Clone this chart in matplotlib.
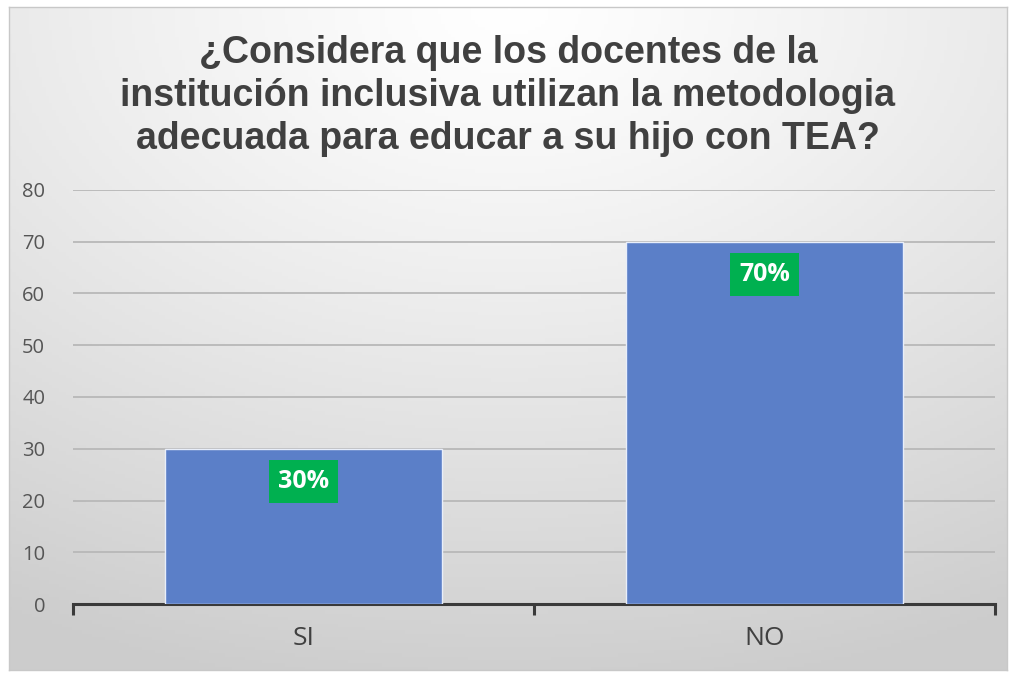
import numpy as np
import matplotlib
matplotlib.use("Agg")
import matplotlib.pyplot as plt

categories = ["SI", "NO"]
values = [30, 70]
labels = ["30%", "70%"]
title = "¿Considera que los docentes de la\ninstitución inclusiva utilizan la metodologia\nadecuada para educar a su hijo con TEA?"

W, H = 1016, 679
fig = plt.figure(figsize=(W / 100, H / 100), dpi=100)
fig.patch.set_facecolor("white")

# background gradient panel
x0, y0, x1, y1 = 9, 7, 1007, 670
bg = fig.add_axes([x0 / W, 1 - y1 / H, (x1 - x0) / W, (y1 - y0) / H])
yy, xx = np.mgrid[0:200, 0:300]
cx, cy = 150, 0
r = np.sqrt(((xx - cx) / 300) ** 2 + ((yy - cy) / 200) ** 2)
r = np.clip(r / 1.05, 0, 1)
vals = 1.0 - 0.20 * r ** 1.2
img = np.dstack([vals, vals, vals])
bg.imshow(img, aspect="auto", extent=[0, 1, 0, 1], origin="upper")
bg.set_xticks([]); bg.set_yticks([])
for s in bg.spines.values():
    s.set_color("#c8c8c8")
    s.set_linewidth(1.0)

# plot axes: x 73..995, y 190(80) .. 604(0)
px0, px1 = 73, 995
py_top, py_bot = 190, 604
ax = fig.add_axes([px0 / W, 1 - py_bot / H, (px1 - px0) / W, (py_bot - py_top) / H])
ax.patch.set_alpha(0)
ax.set_xlim(-0.5, 1.5)
ax.set_ylim(0, 80)
ax.set_yticks(range(0, 81, 10))
ax.grid(axis="y", color="#b8b8b8", linewidth=1.3)
ax.set_axisbelow(True)
for s in ["top", "right", "left"]:
    ax.spines[s].set_visible(False)
ax.spines["bottom"].set_color("#3a3a3a")
ax.spines["bottom"].set_linewidth(2.2)

x = np.arange(len(categories))
ax.bar(x, values, width=0.6, color="#5b7fc8", edgecolor="#e8eefa", linewidth=1.0, zorder=3)

ax.set_xticks(x)
ax.set_xticklabels(categories, fontsize=19, color="#404040", family="Open Sans")
ax.tick_params(axis="x", length=0, pad=16)
ax.tick_params(axis="y", length=0, labelsize=14.5, labelcolor="#555555", pad=20)
for lab in ax.get_yticklabels():
    lab.set_family("Open Sans")

# axis tick marks at category boundaries
for xb in [-0.5, 0.5, 1.5]:
    ax.plot([xb, xb], [0, -2.2], color="#3a3a3a", linewidth=2.2, clip_on=False, zorder=4,
            solid_capstyle="butt")

for xi, v, lab in zip(x, values, labels):
    ax.annotate(lab, (xi, v), xytext=(0, -33), textcoords="offset pixels",
                ha="center", va="center", fontsize=18, fontweight="bold", color="white",
                family="Open Sans", zorder=5,
                bbox=dict(boxstyle="square,pad=0.35", fc="#00b050", ec="none"))

fig.text(0.5, 1 - 96 / H, title, ha="center", va="center", fontsize=27, fontweight="bold",
         color="#404040", family="Liberation Sans", linespacing=1.24)

fig.savefig("out.png", dpi=100)
